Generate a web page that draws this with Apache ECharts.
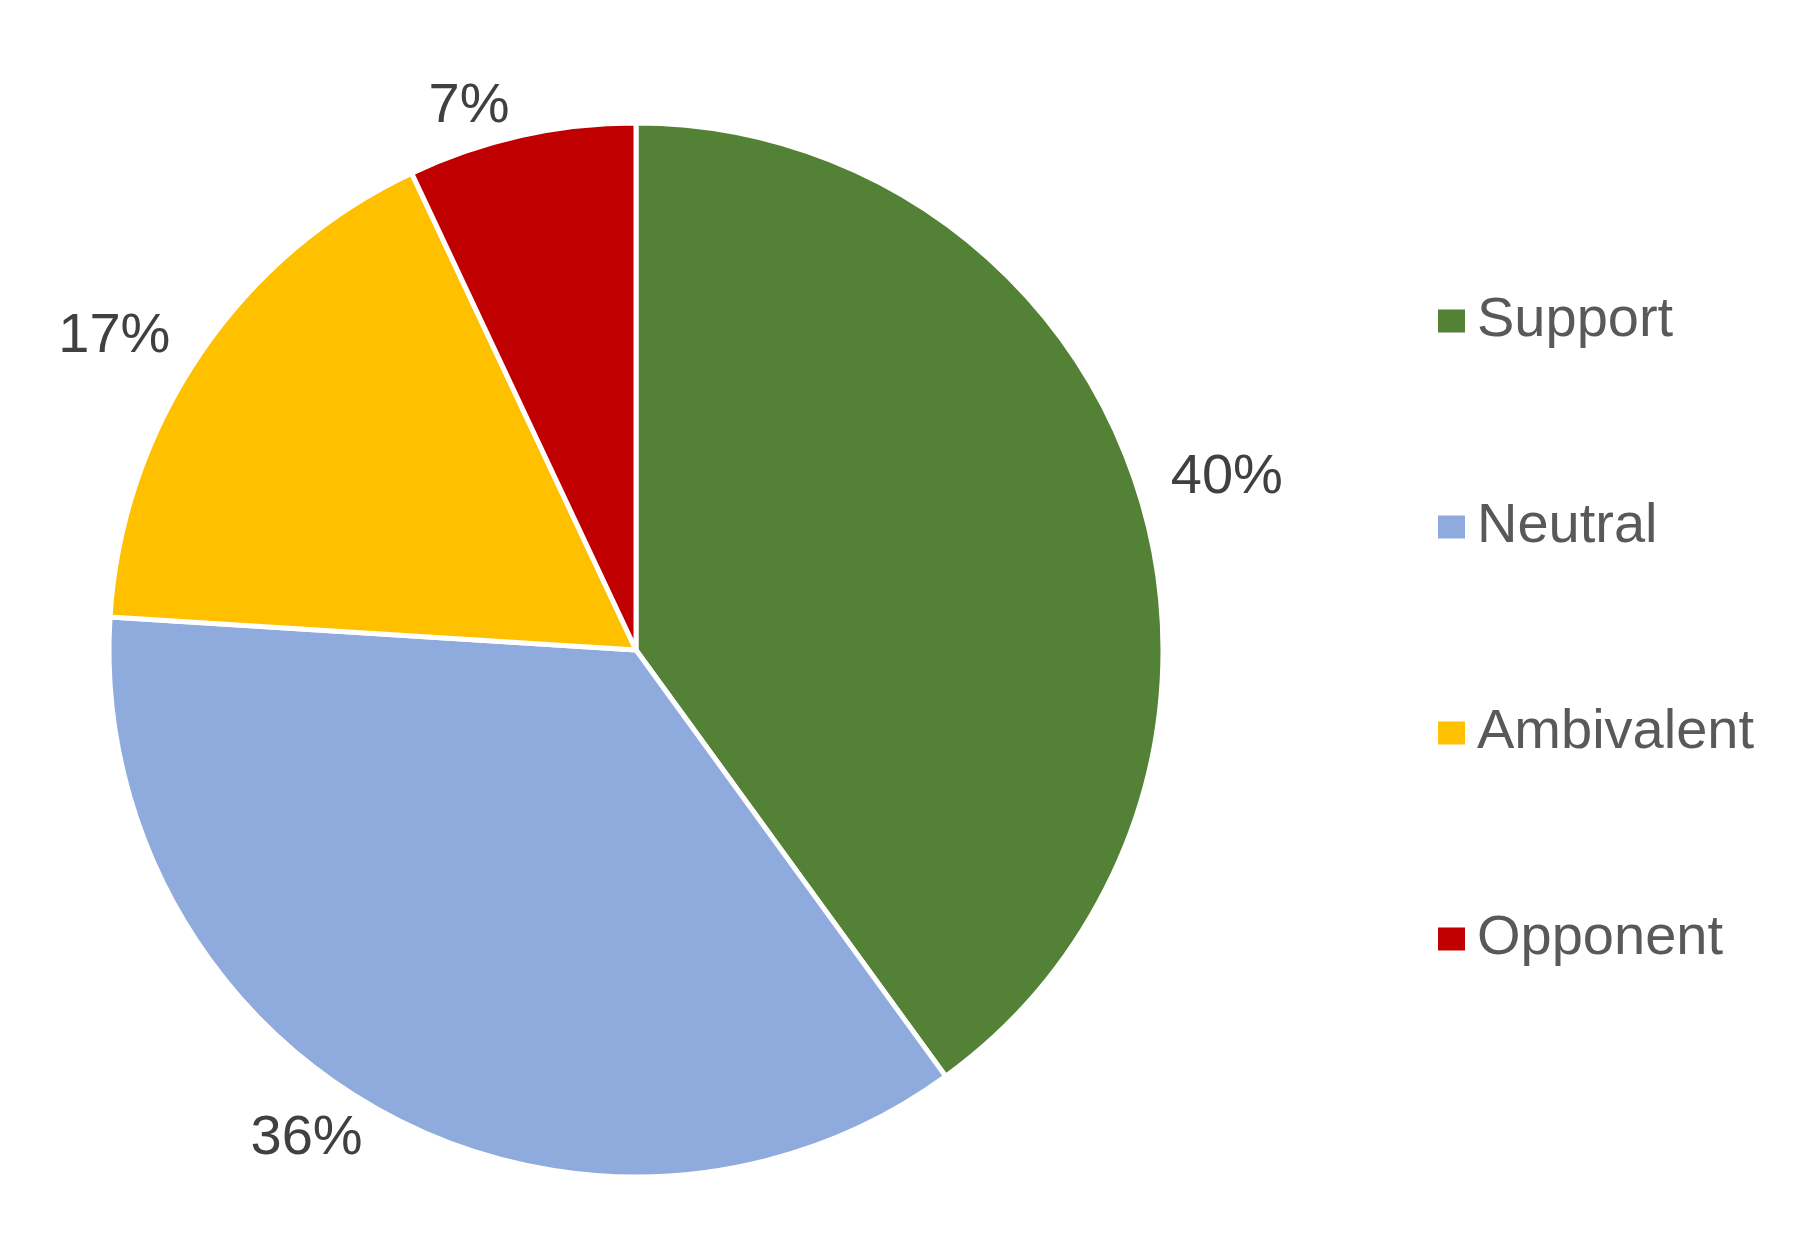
<!DOCTYPE html>
<html lang="en">
<head>
    <meta charset="UTF-8">
    <title>Pie</title>
    <script src="https://cdn.jsdelivr.net/npm/echarts@6/dist/echarts.min.js"></script>
</head>
<body style="margin:0;background:#fff">
<div id="main" style="width:1815px;height:1240px;"></div>
<script type="text/javascript">
    const categories = ['Support', 'Neutral', 'Ambivalent', 'Opponent'];
    const values = [40, 36, 17, 7];
    const colors = ['#538135', '#8faadc', '#ffc000', '#c00000'];

    let myChart = echarts.init(document.getElementById('main'));
    const font = '"Liberation Sans Narrow", "Liberation Sans", Arial, sans-serif';
    let option = {
        color: colors,
        legend: {
            orient: 'vertical',
            left: 1431,
            top: 288,
            itemWidth: 29,
            itemHeight: 25,
            itemGap: 150,
            icon: 'rect',
            textStyle: {fontSize: 56, color: '#595959', fontFamily: font, padding: [0, 0, 0, 6]},
            data: categories
        },
        series: [{
            type: 'pie',
            center: [636, 650],
            radius: 527,
            startAngle: 90,
            clockwise: true,
            data: categories.map((c, i) => ({name: c, value: values[i]})),
            itemStyle: {borderColor: '#fff', borderWidth: 5},
            label: {
                position: 'outside',
                formatter: '{c}%',
                fontSize: 56,
                color: '#404040',
                fontFamily: font
            },
            labelLine: {show: false, length: 30, length2: 0}
        }]
    };
    myChart.setOption(option);
</script>
</body>
</html>
